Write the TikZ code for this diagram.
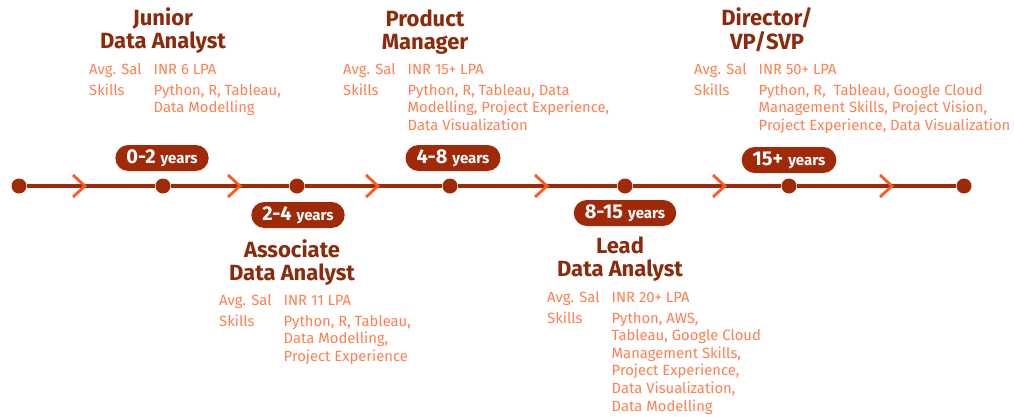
\documentclass[tikz,border=0pt]{standalone}
\usepackage{fontspec}
\setmainfont{Fira Sans}
\definecolor{maroon}{HTML}{A02A08}
\definecolor{titlec}{HTML}{8C2A0C}
\definecolor{coral}{HTML}{FF7F50}
\definecolor{chev}{HTML}{FF5A1F}
\newcommand\yearlbl[1]{{\fontsize{20}{20}\selectfont #1}\hspace{5pt}{\fontsize{15}{15}\selectfont years}}
\newcommand\infotab[2]{\begin{tabular}[t]{@{}p{64.5pt}@{}l@{}}Avg. Sal & #1\\[3.5pt] Skills & #2\end{tabular}}
\newcommand\titletab[1]{\begin{tabular}[t]{@{}c@{}}#1\end{tabular}}
\begin{document}
\begin{tikzpicture}[x=1pt,y=-1pt,
 dot/.style={circle,fill=maroon,inner sep=0pt,minimum size=15pt},
 tline/.style={draw=maroon,line width=4pt},
 pill/.style={fill=maroon,text=white,rounded corners=13pt,minimum height=26pt,inner xsep=11pt,inner ysep=0pt,font=\bfseries},
 title/.style={text=titlec,font=\fontsize{22}{23}\selectfont\bfseries,inner sep=0pt,anchor=base},
 info/.style={text=coral,font=\fontsize{14.8}{17.6}\selectfont,inner sep=0pt,anchor=base west},
 chevron/.style={draw=chev,line width=2.8pt}]
\useasboundingbox (0,0) rectangle (1014,416);

% timeline dots
\node[dot] (d0) at (19,186) {};
\node[dot] (d1) at (163,186) {};
\node[dot] (d2) at (297,186) {};
\node[dot] (d3) at (450,186) {};
\node[dot] (d4) at (625,186) {};
\node[dot] (d5) at (789,186) {};
\node[dot] (d6) at (964,186) {};
\draw[tline] (d0) -- (d1) -- (d2) -- (d3) -- (d4) -- (d5) -- (d6);

% chevrons
\foreach \t in {85,240,378,547,725,892}
  \draw[chevron] (\t-12,175) -- (\t,186) -- (\t-12,197);

% year pills
\node[pill] (p1) at (162,158) {\yearlbl{0-2}};
\node[pill] (p2) at (298,215) {\yearlbl{2-4}};
\node[pill] (p3) at (453,158) {\yearlbl{4-8}};
\node[pill] (p4) at (625,213) {\yearlbl{8-15}};
\node[pill] (p5) at (789,160) {\yearlbl{15+}};

% titles
\node[title] (t1) at (163,25) {\titletab{Junior\\Data Analyst}};
\node[title] (t2) at (292,257) {\titletab{Associate\\Data Analyst}};
\node[title] (t3) at (425,26) {\titletab{Product\\Manager}};
\node[title] (t4) at (620,253) {\titletab{Lead\\Data Analyst}};
\node[title] (t5) at (767,25) {\titletab{Director/\\VP/SVP}};

% info blocks
\node[info] (i1) at (89,74) {\infotab{INR 6 LPA}{Python, R, Tableau,\\ & Data Modelling}};
\node[info] (i2) at (219,305) {\infotab{INR 11 LPA}{Python, R, Tableau,\\ & Data Modelling,\\ & Project Experience}};
\node[info] (i3) at (343,74) {\infotab{INR 15+ LPA}{Python, R, Tableau, Data\\ & Modelling, Project Experience,\\ & Data Visualization}};
\node[info] (i4) at (547,302) {\infotab{INR 20+ LPA}{Python, AWS,\\ & Tableau, Google Cloud\\ & Management Skills,\\ & Project Experience,\\ & Data Visualization,\\ & Data Modelling}};
\node[info] (i5) at (694,74) {\infotab{INR 50+ LPA}{Python, R,\ \ Tableau, Google Cloud\\ & Management Skills, Project Vision,\\ & Project Experience, Data Visualization}};
\end{tikzpicture}
\end{document}
